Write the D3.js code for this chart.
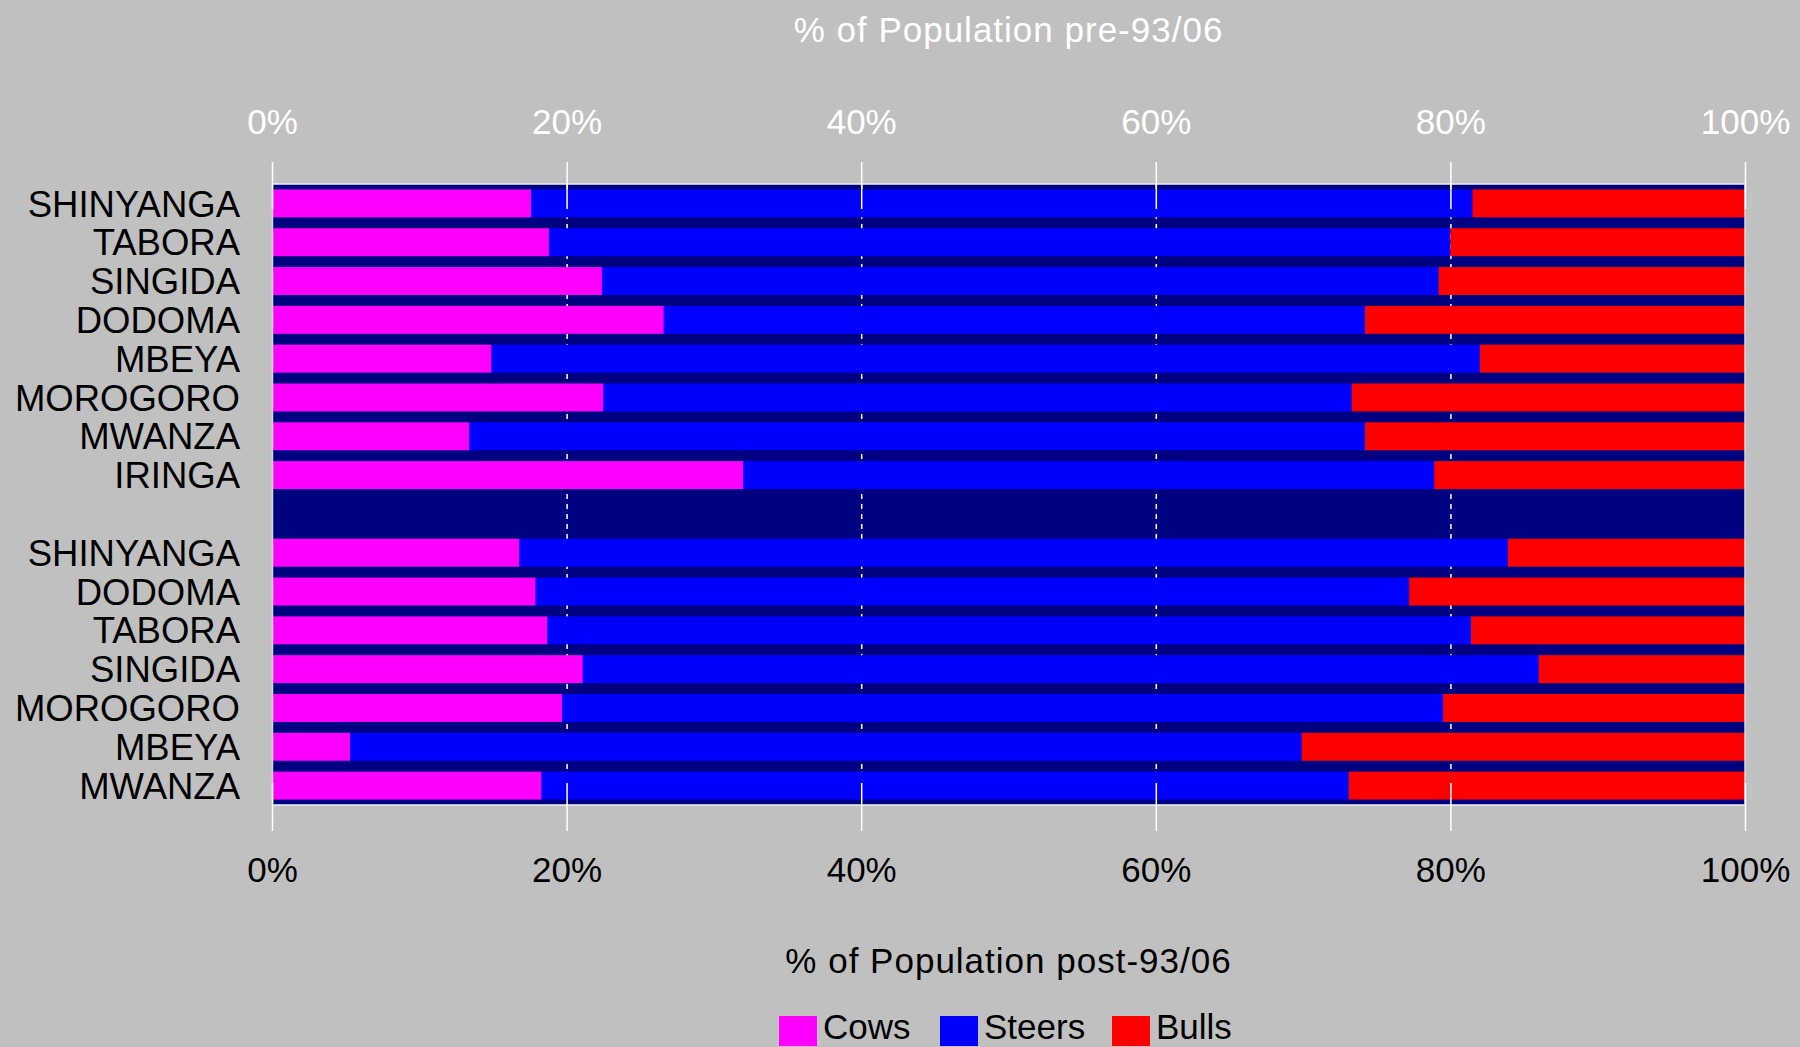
<!DOCTYPE html>
<html>
<head>
<meta charset="utf-8">
<script src="https://cdn.jsdelivr.net/npm/d3@7"></script>
<style>
  html, body { margin: 0; padding: 0; background: #c0c0c0; }
  svg { display: block; }
  text { font-family: "Liberation Sans", Arial, Helvetica, sans-serif; }
</style>
</head>
<body>
<svg id="chart" width="1800" height="1047"></svg>
<script>
// ---- data ----
const preRegions  = ["SHINYANGA", "TABORA", "SINGIDA", "DODOMA", "MBEYA", "MOROGORO", "MWANZA", "IRINGA"];
const preCows     = [17.6, 18.8, 22.4, 26.6, 14.9, 22.5, 13.4, 32.0];
const preSteers   = [63.9, 61.2, 56.8, 47.6, 67.1, 50.8, 60.8, 46.9];
const preBulls    = [18.5, 20.0, 20.8, 25.8, 18.0, 26.7, 25.8, 21.1];

const postRegions = ["SHINYANGA", "DODOMA", "TABORA", "SINGIDA", "MOROGORO", "MBEYA", "MWANZA"];
const postCows    = [16.8, 17.9, 18.7, 21.1, 19.7, 5.3, 18.3];
const postSteers  = [67.1, 59.3, 62.7, 64.9, 59.8, 64.6, 54.8];
const postBulls   = [16.1, 22.8, 18.6, 14.0, 20.5, 30.1, 26.9];

const seriesNames = ["Cows", "Steers", "Bulls"];
const seriesColors = ["#ff00ff", "#0000ff", "#ff0000"];
const tickValues = [0, 20, 40, 60, 80, 100];
const topTitle = "% of Population pre-93/06";
const bottomTitle = "% of Population post-93/06";

(function () {
// ---- build rows ----
const rows = [];
preRegions.forEach((r, i) => rows.push({key: "pre-" + r, label: r, Cows: preCows[i], Steers: preSteers[i], Bulls: preBulls[i]}));
postRegions.forEach((r, i) => rows.push({key: "post-" + r, label: r, Cows: postCows[i], Steers: postSteers[i], Bulls: postBulls[i]}));
const gapKey = "gap";
const bandKeys = rows.slice(0, preRegions.length).map(d => d.key)
  .concat([gapKey])
  .concat(rows.slice(preRegions.length).map(d => d.key));

// ---- layout ----
const pL = 272, pR = 1745, pT = 184, pB = 805;
const svg = d3.select("#chart");

const x = d3.scaleLinear().domain([0, 100]).range([pL, pR]);
const y = d3.scaleBand().domain(bandKeys).range([pT, pB]).paddingInner(0.28).paddingOuter(0.14);

// plot background
svg.append("rect").attr("x", pL).attr("y", pT).attr("width", pR - pL).attr("height", pB - pT)
  .attr("fill", "#000080");

// dashed gridlines (behind bars)
svg.append("g").selectAll("line").data(tickValues.filter(v => v > 0 && v < 100)).join("line")
  .attr("x1", d => x(d) + 0.5).attr("x2", d => x(d) + 0.5)
  .attr("y1", pT).attr("y2", pB)
  .attr("stroke", "#ffffff").attr("stroke-width", 1.5).attr("stroke-dasharray", "5,5");

// stacked bars
const stacked = d3.stack().keys(seriesNames)(rows);
const color = d3.scaleOrdinal().domain(seriesNames).range(seriesColors);

svg.append("g").selectAll("g").data(stacked).join("g")
  .attr("fill", d => color(d.key))
  .selectAll("rect").data(d => d).join("rect")
  .attr("x", d => x(d[0]))
  .attr("width", d => x(d[1]) - x(d[0]))
  .attr("y", d => y(d.data.key))
  .attr("height", y.bandwidth());

// frame
const frame = svg.append("g").attr("stroke", "#f0f0f0").attr("stroke-width", 1.5);
frame.append("line").attr("x1", pL).attr("x2", pR).attr("y1", pT).attr("y2", pT);
frame.append("line").attr("x1", pL).attr("x2", pR).attr("y1", pB).attr("y2", pB);
frame.append("line").attr("x1", pL + 0.5).attr("x2", pL + 0.5).attr("y1", pT).attr("y2", pB).attr("stroke", "#d8d8d8");
frame.append("line").attr("x1", pR).attr("x2", pR).attr("y1", pT).attr("y2", pB).attr("stroke", "#d8d8d8");

// top axis
const topAxis = svg.append("g").attr("transform", "translate(0,209)")
  .call(d3.axisTop(x).tickValues(tickValues).tickSize(47).tickFormat(d => d + "%"));
topAxis.select(".domain").remove();
topAxis.selectAll(".tick line").attr("stroke", "#ffffff").attr("stroke-width", 1.5);
topAxis.selectAll(".tick text").attr("fill", "#ffffff").attr("y", -75).attr("dy", 0)
  .style("font-size", "35px").style("font-family", "Liberation Sans, Arial, sans-serif");

// bottom axis
const bottomAxis = svg.append("g").attr("transform", "translate(0,783)")
  .call(d3.axisBottom(x).tickValues(tickValues).tickSize(48).tickFormat(d => d + "%"));
bottomAxis.select(".domain").remove();
bottomAxis.selectAll(".tick line").attr("stroke", "#ffffff").attr("stroke-width", 1.5);
bottomAxis.selectAll(".tick text").attr("fill", "#000000").attr("y", 99).attr("dy", 0)
  .style("font-size", "35px").style("font-family", "Liberation Sans, Arial, sans-serif");

// category labels
svg.append("g").selectAll("text").data(rows).join("text")
  .attr("x", 240)
  .attr("y", d => y(d.key) + y.bandwidth() / 2)
  .attr("dy", "0.36em")
  .attr("text-anchor", "end")
  .attr("fill", "#000")
  .style("font-size", "36.5px")
  .text(d => d.label);

// titles
svg.append("text").attr("x", (pL + pR) / 2).attr("y", 42).attr("text-anchor", "middle")
  .attr("fill", "#ffffff").style("font-size", "35px").style("letter-spacing", "1px").text(topTitle);
svg.append("text").attr("x", (pL + pR) / 2).attr("y", 973).attr("text-anchor", "middle")
  .attr("fill", "#000000").style("font-size", "35px").style("letter-spacing", "1px").text(bottomTitle);

// legend
const legendX = [779, 940, 1112];
const lg = svg.append("g");
seriesNames.forEach((name, i) => {
  lg.append("rect").attr("x", legendX[i]).attr("y", 1016).attr("width", 38).attr("height", 30)
    .attr("fill", seriesColors[i]);
  lg.append("text").attr("x", legendX[i] + 44).attr("y", 1039).attr("fill", "#000")
    .style("font-size", "35px").text(name);
});
})();
</script>
</body>
</html>
